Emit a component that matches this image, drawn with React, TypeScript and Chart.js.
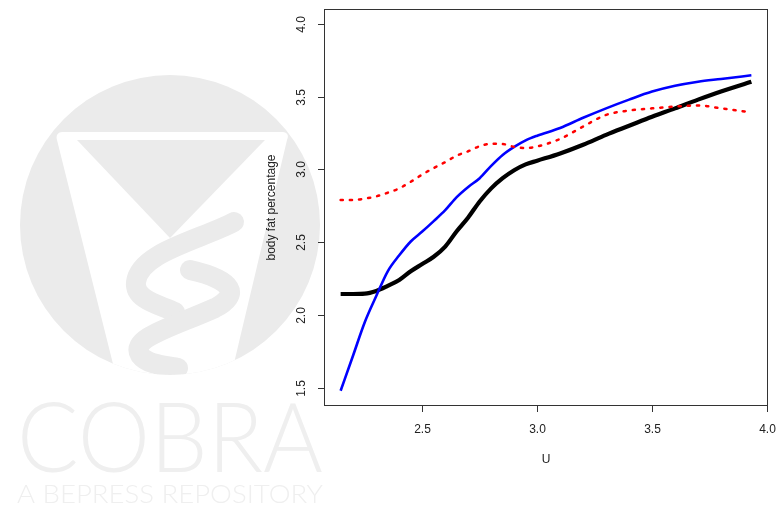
import React, { useEffect, useRef } from "react";
import { Chart, registerables } from "chart.js";

Chart.register(...registerables);

// Shared U grid (x values)
const uGrid = [2.145, 2.2, 2.25, 2.3, 2.35, 2.4, 2.45, 2.5, 2.55, 2.6, 2.65, 2.7, 2.75, 2.8, 2.85, 2.9, 2.95, 3.0, 3.1, 3.2, 3.3, 3.4, 3.5, 3.6, 3.7, 3.8, 3.932];

// Black thick curve
const blackFat = [2.144, 2.144, 2.146, 2.165, 2.20, 2.24, 2.30, 2.35, 2.40, 2.47, 2.575, 2.67, 2.78, 2.87, 2.94, 2.995, 3.035, 3.06, 3.11, 3.17, 3.238, 3.30, 3.362, 3.42, 3.48, 3.536, 3.603];

// Blue curve
const blueFat = [1.479, 1.725, 1.95, 2.13, 2.30, 2.41, 2.505, 2.573, 2.645, 2.72, 2.81, 2.88, 2.94, 3.025, 3.10, 3.155, 3.20, 3.232, 3.285, 3.355, 3.42, 3.48, 3.535, 3.575, 3.603, 3.622, 3.647];

// Red dotted curve
const redFat = [2.79, 2.79, 2.80, 2.815, 2.84, 2.87, 2.915, 2.965, 3.01, 3.05, 3.095, 3.125, 3.16, 3.177, 3.175, 3.155, 3.147, 3.158, 3.21, 3.295, 3.375, 3.405, 3.42, 3.432, 3.44, 3.42, 3.393];

const xTicks = [2.5, 3.0, 3.5, 4.0];
const yTicks = [1.5, 2.0, 2.5, 3.0, 3.5, 4.0];
const xTickLabels = ["2.5", "3.0", "3.5", "4.0"];
const yTickLabels = ["1.5", "2.0", "2.5", "3.0", "3.5", "4.0"];
const xTitle = "U";
const yTitle = "body fat percentage";
const wmTitle = "COBRA";
const wmSub = "A BEPRESS REPOSITORY";

const FONT = '12px "Liberation Sans", Arial, sans-serif';

const toPoints = (ys: number[]) => uGrid.map((u, i) => ({ x: u, y: ys[i] }));

const watermarkPlugin = {
  id: "watermark",
  beforeDraw(chart: any) {
    const ctx = chart.ctx as CanvasRenderingContext2D;
    const gray = "#ebebeb";
    ctx.save();
    // circle
    ctx.beginPath();
    ctx.arc(170, 225, 150, 0, Math.PI * 2);
    ctx.fillStyle = gray;
    ctx.fill();
    ctx.clip();
    // white funnel
    ctx.beginPath();
    ctx.moveTo(62, 132);
    ctx.lineTo(283, 132);
    ctx.quadraticCurveTo(290, 133, 287, 140);
    ctx.lineTo(230, 380);
    ctx.lineTo(117, 380);
    ctx.lineTo(57, 140);
    ctx.quadraticCurveTo(55, 133, 62, 132);
    ctx.fillStyle = "#ffffff";
    ctx.fill();
    // gray triangle
    ctx.beginPath();
    ctx.moveTo(77, 140);
    ctx.lineTo(265, 140);
    ctx.lineTo(170, 238);
    ctx.closePath();
    ctx.fillStyle = gray;
    ctx.fill();
    // snake
    ctx.strokeStyle = gray;
    ctx.lineCap = "round";
    ctx.lineWidth = 20;
    ctx.beginPath();
    ctx.moveTo(234, 222);
    ctx.bezierCurveTo(200, 240, 140, 252, 136, 282);
    ctx.bezierCurveTo(134, 300, 160, 305, 175, 312);
    ctx.stroke();
    ctx.beginPath();
    ctx.moveTo(190, 270);
    ctx.bezierCurveTo(235, 280, 240, 295, 215, 308);
    ctx.bezierCurveTo(170, 328, 130, 338, 140, 355);
    ctx.bezierCurveTo(148, 366, 170, 366, 178, 368);
    ctx.stroke();
    ctx.restore();

    // texts
    ctx.save();
    ctx.fillStyle = "#efefef";
    ctx.font = '300 96px Lato, "DejaVu Sans", sans-serif';
    ctx.textBaseline = "alphabetic";
    ctx.textAlign = "left";
    let w = ctx.measureText(wmTitle).width;
    ctx.save();
    ctx.translate(17, 472);
    ctx.scale(306 / w, 1);
    ctx.fillText(wmTitle, 0, 0);
    ctx.restore();
    ctx.font = '300 25px Lato, "DejaVu Sans", sans-serif';
    w = ctx.measureText(wmSub).width;
    ctx.save();
    ctx.translate(17, 503);
    ctx.scale(306 / w, 1);
    ctx.fillText(wmSub, 0, 0);
    ctx.restore();
    ctx.restore();
  },
};

const axesPlugin = {
  id: "rAxes",
  afterDraw(chart: any) {
    const ctx = chart.ctx as CanvasRenderingContext2D;
    const a = chart.chartArea;
    const xs = chart.scales.x;
    const ys = chart.scales.y;
    ctx.save();
    ctx.strokeStyle = "#333333";
    ctx.lineWidth = 1;
    ctx.strokeRect(Math.round(a.left) - 0.5, Math.round(a.top) - 0.5, Math.round(a.right - a.left) + 1, Math.round(a.bottom - a.top) + 1);
    ctx.fillStyle = "#222222";
    ctx.font = FONT;
    // x ticks
    ctx.textAlign = "center";
    ctx.textBaseline = "middle";
    xTicks.forEach((v, i) => {
      const px = Math.round(xs.getPixelForValue(v)) + 0.5;
      ctx.beginPath();
      ctx.moveTo(px, a.bottom);
      ctx.lineTo(px, a.bottom + 7);
      ctx.stroke();
      ctx.fillText(xTickLabels[i], px, 430);
    });
    // y ticks
    yTicks.forEach((v, i) => {
      const py = Math.round(ys.getPixelForValue(v)) + 0.5;
      ctx.beginPath();
      ctx.moveTo(a.left, py);
      ctx.lineTo(a.left - 7, py);
      ctx.stroke();
      ctx.save();
      ctx.translate(302, py);
      ctx.rotate(-Math.PI / 2);
      ctx.fillText(yTickLabels[i], 0, 0);
      ctx.restore();
    });
    // titles
    ctx.fillText(xTitle, (a.left + a.right) / 2, 459.5);
    ctx.save();
    ctx.translate(272, (a.top + a.bottom) / 2);
    ctx.rotate(-Math.PI / 2);
    ctx.fillText(yTitle, 0, 0);
    ctx.restore();
    ctx.restore();
  },
};

export default function App() {
  const ref = useRef<HTMLCanvasElement | null>(null);
  useEffect(() => {
    if (!ref.current) return;
    const chart = new Chart(ref.current, {
      type: "line",
      data: {
        datasets: [
          {
            label: "red",
            data: toPoints(redFat),
            borderColor: "#ff0000",
            borderWidth: 2.5,
            borderDash: [2.2, 7],
            borderCapStyle: "round",
            pointRadius: 0,
            cubicInterpolationMode: "monotone",
            fill: false,
          },
          {
            label: "blue",
            data: toPoints(blueFat),
            borderColor: "#0000ff",
            borderWidth: 2.6,
            pointRadius: 0,
            cubicInterpolationMode: "monotone",
            fill: false,
          },
          {
            label: "black",
            data: toPoints(blackFat),
            borderColor: "#000000",
            borderWidth: 4.2,
            pointRadius: 0,
            cubicInterpolationMode: "monotone",
            fill: false,
          },
        ],
      },
      options: {
        responsive: false,
        animation: false,
        events: [],
        layout: { padding: { left: 0, top: 10, right: 17, bottom: 0 } },
        plugins: { legend: { display: false }, tooltip: { enabled: false } },
        scales: {
          x: {
            type: "linear",
            min: 2.077,
            max: 4.0,
            grid: { display: false },
            border: { display: false },
            ticks: { display: false },
            afterFit: (s: any) => {
              s.height = 113;
            },
          },
          y: {
            type: "linear",
            min: 1.381,
            max: 4.096,
            grid: { display: false },
            border: { display: false },
            ticks: { display: false },
            afterFit: (s: any) => {
              s.width = 325;
            },
          },
        },
      },
      plugins: [watermarkPlugin, axesPlugin],
    } as any);
    return () => chart.destroy();
  }, []);
  return (
    <div style={{ position: "fixed", left: 0, top: 0, width: 784, height: 518, background: "#ffffff" }}>
      <canvas ref={ref} width={784} height={518} style={{ display: "block", width: 784, height: 518 }} />
    </div>
  );
}
